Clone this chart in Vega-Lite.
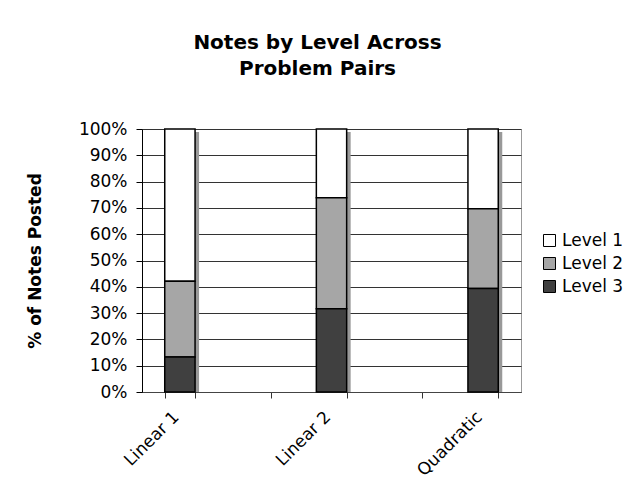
{
  "$schema": "https://vega.github.io/schema/vega-lite/v6.json",
  "width": 379,
  "height": 263,
  "autosize": "none",
  "padding": {"left": 142, "top": 129, "right": 107, "bottom": 100},
  "background": "white",
  "title": {
    "text": ["Notes by Level Across", "Problem Pairs"],
    "font": "DejaVu Sans",
    "fontSize": 20,
    "fontWeight": "bold",
    "color": "black",
    "lineHeight": 26,
    "offset": 41,
    "dx": -14,
    "anchor": "middle"
  },
  "config": {
    "view": {"stroke": "#999999", "strokeWidth": 1},
    "font": "DejaVu Sans"
  },
  "data": {
    "values": [
      {"pair": "Linear 1", "level": "Level 1", "pct": 57.9},
      {"pair": "Linear 1", "level": "Level 2", "pct": 28.8},
      {"pair": "Linear 1", "level": "Level 3", "pct": 13.3},
      {"pair": "Linear 2", "level": "Level 1", "pct": 26.1},
      {"pair": "Linear 2", "level": "Level 2", "pct": 42.2},
      {"pair": "Linear 2", "level": "Level 3", "pct": 31.7},
      {"pair": "Quadratic", "level": "Level 1", "pct": 30.3},
      {"pair": "Quadratic", "level": "Level 2", "pct": 30.3},
      {"pair": "Quadratic", "level": "Level 3", "pct": 39.4}
    ]
  },
  "layer": [
    {
      "mark": {"type": "bar", "color": "#999999", "xOffset": 4, "yOffset": 3},
      "encoding": {
        "x": {
          "field": "pair",
          "type": "nominal",
          "scale": {"domain": ["Linear 1", "gap1", "Linear 2", "gap2", "Quadratic"], "paddingInner": 0.6, "paddingOuter": 0.3},
          "axis": {
            "title": null,
            "labelAngle": -45,
            "labelAlign": "right",
            "labelBaseline": "middle",
            "labelOffset": -4,
            "tickBand": "extent",
            "labelExpr": "datum.label == 'gap1' || datum.label == 'gap2' ? '' : datum.label",
            "domainColor": "#444444",
            "tickColor": "#333333",
            "tickSize": 6,
            "labelFont": "DejaVu Sans",
            "labelFontSize": 17,
            "labelColor": "black",
            "labelPadding": 16
          }
        },
        "y": {
          "aggregate": "sum",
          "field": "pct",
          "type": "quantitative",
          "scale": {"domain": [0, 100]},
          "axis": {
            "title": "% of Notes Posted",
            "values": [0, 10, 20, 30, 40, 50, 60, 70, 80, 90, 100],
            "labelExpr": "datum.value + '%'",
            "grid": true,
            "gridColor": "#333333",
            "gridWidth": 1,
            "tickSize": 6,
            "tickColor": "black",
            "domainColor": "black",
            "labelFont": "DejaVu Sans",
            "labelFontSize": 17,
            "labelColor": "black",
            "labelPadding": 9,
            "titleFont": "DejaVu Sans",
            "titleFontSize": 17,
            "titleFontWeight": "bold",
            "titleColor": "black",
            "titlePadding": 34
          }
        }
      }
    },
    {
      "mark": {"type": "bar", "stroke": "black", "strokeWidth": 1.5},
      "encoding": {
        "x": {
          "field": "pair",
          "type": "nominal",
          "axis": {
            "title": null,
            "labelAngle": -45,
            "labelAlign": "right",
            "labelBaseline": "middle",
            "labelOffset": -4,
            "tickBand": "extent",
            "labelExpr": "datum.label == 'gap1' || datum.label == 'gap2' ? '' : datum.label",
            "domainColor": "#444444",
            "tickColor": "#333333",
            "tickSize": 6,
            "labelFont": "DejaVu Sans",
            "labelFontSize": 17,
            "labelColor": "black",
            "labelPadding": 16
          }
        },
        "y": {
          "field": "pct",
          "type": "quantitative",
          "stack": "zero",
          "axis": {
            "title": "% of Notes Posted",
            "values": [0, 10, 20, 30, 40, 50, 60, 70, 80, 90, 100],
            "labelExpr": "datum.value + '%'",
            "grid": true,
            "gridColor": "#333333",
            "gridWidth": 1,
            "tickSize": 6,
            "tickColor": "black",
            "domainColor": "black",
            "labelFont": "DejaVu Sans",
            "labelFontSize": 17,
            "labelColor": "black",
            "labelPadding": 9,
            "titleFont": "DejaVu Sans",
            "titleFontSize": 17,
            "titleFontWeight": "bold",
            "titleColor": "black",
            "titlePadding": 34
          }
        },
        "color": {
          "field": "level",
          "type": "nominal",
          "scale": {"domain": ["Level 1", "Level 2", "Level 3"], "range": ["#ffffff", "#a6a6a6", "#404040"]},
          "legend": {
            "title": null,
            "orient": "none",
            "legendX": 399,
            "legendY": 103,
            "symbolType": "square",
            "symbolSize": 144,
            "symbolStrokeColor": "black",
            "symbolStrokeWidth": 1,
            "symbolOpacity": 1,
            "labelFont": "DejaVu Sans",
            "labelFontSize": 17,
            "labelColor": "black",
            "labelOffset": 4,
            "rowPadding": 5
          }
        },
        "order": {"field": "level", "sort": "descending"}
      }
    }
  ]
}
